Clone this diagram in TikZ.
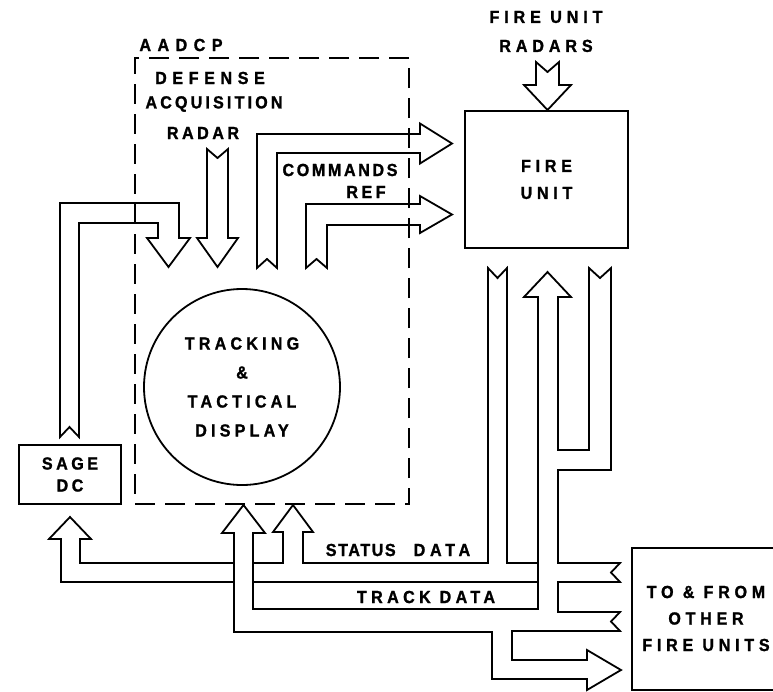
\documentclass[tikz,border=0pt]{standalone}
\usepackage{fontspec}
\newfontfamily\labfont[FakeBold=1.3, FakeStretch=0.92]{Liberation Sans Bold}
\newcommand\lf[2]{\labfont\fontsize{17.5}{#2}\selectfont\addfontfeature{LetterSpace=#1}}
\newcommand\lsp[1]{\addfontfeature{LetterSpace=#1}}
\begin{document}
\begin{tikzpicture}[x=1pt,y=-1pt,
  pipe/.style={draw=black, line width=1.8pt, line join=miter},
  box/.style={draw=black, line width=1.8pt, inner sep=0pt, align=center},
  dashbox/.style={draw=black, line width=1.8pt, dash pattern=on 20pt off 10pt, inner sep=0pt},
  lbl/.style={inner sep=0pt, align=center}]
\useasboundingbox (0,0) rectangle (773,691);
\clip (0,0) rectangle (773,691);

% boxes
\node[dashbox, minimum width=274pt, minimum height=446pt] (aadcpbox) at (272,281) {};
\node[box, minimum width=163pt, minimum height=137pt, font=\lf{27}{27}] (fu) at (546.5,179.5) {FIRE\\UNIT};
\node[box, minimum width=102pt, minimum height=59pt, font=\lf{20}{22}] (sage) at (70,474.5) {SAGE\\DC};
\node[box, circle, minimum size=196pt, font=\lf{24}{29}] (ttd) at (242,387) {TRACKING\\\&\\TACTICAL\\DISPLAY};
\node[box, minimum width=158pt, minimum height=142pt] (other) at (711,619) {};

% labels
\node[lbl, font=\lf{37}{20}] (aadcp) at (181,45) {AADCP};
\node[lbl, font=\lf{28}{29}] (fur) at (546,31.5) {FIRE UNIT\\RADARS};
\node[lbl, font=\lf{32}{20}] (dar1) at (210,78) {DEFENSE};
\node[lbl, font=\lf{18}{20}] (dar2) at (214,104) {ACQUISITION};
\node[lbl, font=\lf{20}{20}] (dar3) at (203,133) {RADAR};
\node[lbl, font=\lf{15}{20}] (cmd) at (340,170) {COMMANDS};
\node[lbl, font=\lf{20}{20}] (ref) at (366,192) {REF};
\node[lbl, font=\lf{9}{20}] (status) at (398,550) {STATUS\hspace{18pt}{\lsp{27}DATA}};
\node[lbl, font=\lf{25}{20}] (track) at (426,597) {TRACK DATA};
\node[lbl, font=\lf{27}{26.5}] (othertxt) at (706,618.5) {TO \& FROM\\OTHER\\FIRE UNITS};

% fire unit radars arrow
\draw[pipe] (536,62) -- (547.5,72) -- (559,62) -- (559,85) -- (571,85) -- (547.5,110) -- (524,85) -- (536,85) -- cycle;
% defense acquisition radar arrow
\draw[pipe] (207,149) -- (217.5,158) -- (228,149) -- (228,238) -- (238,238) -- (217.5,267) -- (197,238) -- (207,238) -- cycle;
% SAGE to AADCP
\draw[pipe] (60,437) -- (69.5,427) -- (79,437) -- (79,223) -- (158,223) -- (158,238) -- (147,238) -- (168.5,267) -- (190,238) -- (179,238) -- (179,203) -- (60,203) -- cycle;
% commands
\draw[pipe] (257,268) -- (267,259) -- (277,268) -- (277,153) -- (420,153) -- (420,163.5) -- (452,143.5) -- (420,123.5) -- (420,134) -- (257,134) -- cycle;
% ref
\draw[pipe] (306,268) -- (316.5,259) -- (327,268) -- (327,225) -- (420,225) -- (420,233) -- (452,214.5) -- (420,196) -- (420,204) -- (306,204) -- cycle;

% bus outline
\draw[pipe] (538,609) -- (538,297) -- (524,297) -- (547.5,272) -- (571,297) -- (558,297) -- (558,450) -- (589,450) -- (589,268) -- (600,278) -- (611,268) -- (611,470) -- (558,470) -- (558,563) -- (620,563) -- (611,572.5) -- (620,582) -- (558,582) -- (558,612) -- (620,612) -- (611,621.5) -- (620,631) -- (512,631) -- (512,660) -- (587,660) -- (587,650) -- (621,670) -- (587,690) -- (587,679) -- (492,679) -- (492,632) -- (234,632) -- (234,533) -- (222,533) -- (243.5,505) -- (265,533) -- (253,533) -- (253,609) -- cycle;
% status data path
\draw[pipe] (253,563) -- (283,563) -- (283,532) -- (273,532) -- (293,505) -- (313,532) -- (303,532) -- (303,563) -- (488,563) -- (488,268) -- (497.5,278) -- (507,268) -- (507,563) -- (538,563);
% to SAGE path
\draw[pipe] (234,582) -- (61,582) -- (61,539) -- (49,539) -- (70,517) -- (91,539) -- (80,539) -- (80,563) -- (234,563);
% track data upper edge
\draw[pipe] (253,582) -- (538,582);
\end{tikzpicture}
\end{document}
